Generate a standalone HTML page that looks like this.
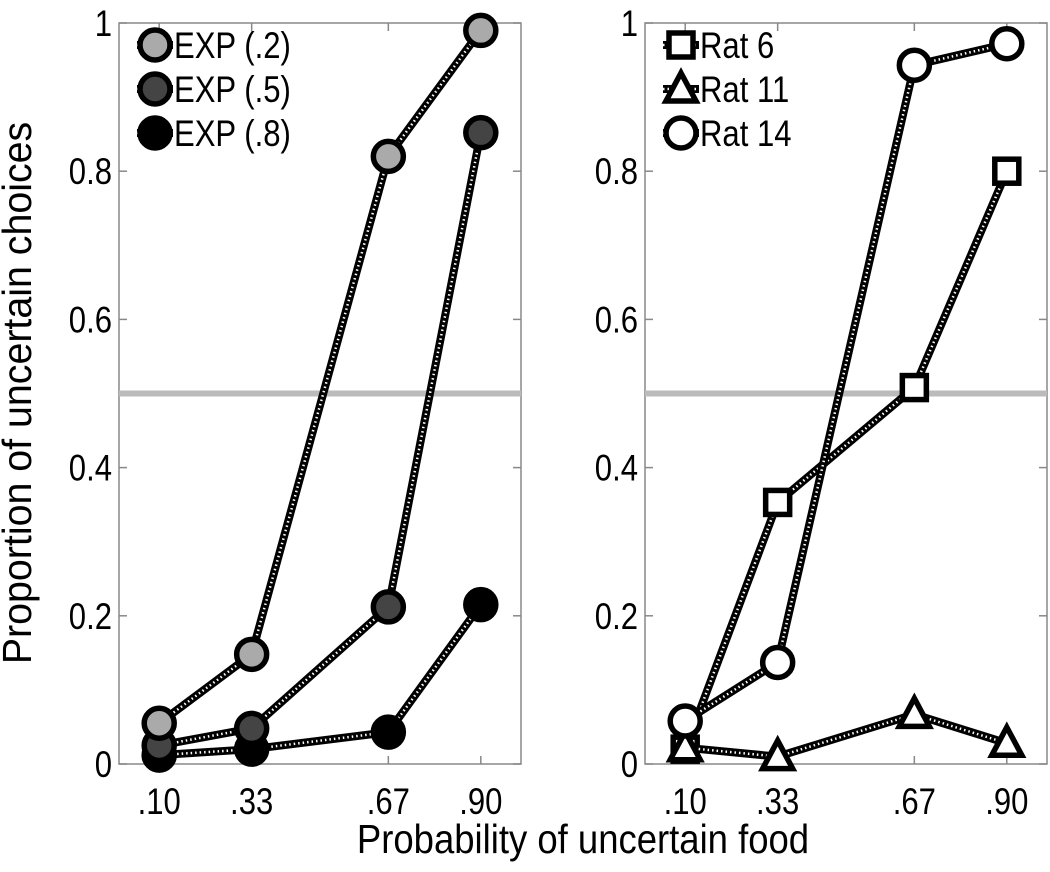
<!DOCTYPE html>
<html><head><meta charset="utf-8"><style>
body{margin:0;background:#fff}
svg text{font-family:"Liberation Sans",sans-serif;fill:#000;transform-box:fill-box}
.ce{transform:scaleX(.84);transform-origin:100% 50%}
.cm{transform:scaleX(.84);transform-origin:50% 50%}
.cs{transform:scaleX(.84);transform-origin:0% 50%}
.ct{transform:scaleX(.89);transform-origin:50% 50%}
</style></head><body>
<svg id="c" width="1050" height="867" viewBox="0 0 1050 867"></svg>
<script>
const xCats=[0.10,0.33,0.67,0.90];
const xTickLabels=['.10','.33','.67','.90'];
const yTicks=[0,0.2,0.4,0.6,0.8,1];
const yTickLabels=['0','0.2','0.4','0.6','0.8','1'];
const exp2=[0.055,0.148,0.82,0.99];
const exp5=[0.025,0.048,0.212,0.852];
const exp8=[0.012,0.02,0.043,0.215];
const rat6=[0.02,0.353,0.508,0.80];
const rat11=[0.022,0.01,0.067,0.028];
const rat14=[0.058,0.137,0.943,0.972];
const refLine=0.5;
const NS='http://www.w3.org/2000/svg';
const svg=document.getElementById('c');
function mk(t,a,p){const e=document.createElementNS(NS,t);for(const k in a)e.setAttribute(k,a[k]);(p||svg).appendChild(e);return e;}
const Y0=764,Y1=23;
function yS(v){return Y0-(Y0-Y1)*v;}
function panel(name,L,R){
  const g=mk('g',{});
  
  
  const xS=v=>L+(R-L)*v;
  const box=mk('rect',{x:L,y:Y1,width:R-L,height:Y0-Y1,fill:'none',stroke:'#888','stroke-width':1.5},g);
  
  const ref=mk('line',{x1:L,x2:R,y1:yS(refLine),y2:yS(refLine),stroke:'#bbb','stroke-width':6},g);
  
  yTicks.forEach((v,i)=>{
    mk('line',{x1:L,x2:L+8,y1:yS(v),y2:yS(v),stroke:'#888','stroke-width':1.5},g);
    mk('line',{x1:R,x2:R-8,y1:yS(v),y2:yS(v),stroke:'#888','stroke-width':1.5},g);
    const t=mk('text',{x:L-7,y:yS(v)+13,'text-anchor':'end','font-size':37,class:'ce'},g);
    t.textContent=yTickLabels[i];
    
  });
  xCats.forEach((v,i)=>{
    mk('line',{x1:xS(v),x2:xS(v),y1:Y0,y2:Y0-8,stroke:'#888','stroke-width':1.5},g);
    mk('line',{x1:xS(v),x2:xS(v),y1:Y1,y2:Y1+8,stroke:'#888','stroke-width':1.5},g);
    const t=mk('text',{x:xS(v),y:Y0+50,'text-anchor':'middle','font-size':37,class:'cm'},g);
    t.textContent=xTickLabels[i];
    
  });
  return {g,xS};
}
function marker(g,type,x,y,fill){
  let e;
  if(type==='circle') e=mk('circle',{cx:x,cy:y,r:15,fill:fill,stroke:'#000','stroke-width':5.5},g);
  else if(type==='square') e=mk('rect',{x:x-12,y:y-12,width:24,height:24,fill:'#fff',stroke:'#000','stroke-width':5.5},g);
  else e=mk('polygon',{points:`${x},${y-16} ${x+15},${y+12} ${x-15},${y+12}`,fill:'#fff',stroke:'#000','stroke-width':5.5,'stroke-linejoin':'miter'},g);
  return e;
}
function series(p,name,vals,type,fill){
  const g=mk('g',{},p.g);
  
  const pts=vals.map((v,i)=>p.xS(xCats[i])+','+yS(v)).join(' ');
  mk('polyline',{points:pts,fill:'none',stroke:'#000','stroke-width':8},g);
  mk('polyline',{points:pts,fill:'none',stroke:'#fff','stroke-width':2.5,'stroke-dasharray':'1.5 3'},g);
  vals.forEach((v,i)=>{const m=marker(g,type,p.xS(xCats[i]),yS(v),fill);
    });
}
function legend(p,L,items){
  items.forEach((it,i)=>{
    const y=45+i*44;
    const g=mk('g',{},p.g);
    
    mk('line',{x1:L+18,x2:L+54,y1:y,y2:y,stroke:'#000','stroke-width':8},g);
    mk('line',{x1:L+18,x2:L+54,y1:y,y2:y,stroke:'#fff','stroke-width':2.5,'stroke-dasharray':'1.5 3'},g);
    marker(g,it[1],L+36,y,it[2]);
    const t=mk('text',{x:L+55,y:y+13,'font-size':37,class:'cs'},g);t.textContent=it[0];
  });
}
const pl=panel('left-panel',119,521);
series(pl,'exp-8',exp8,'circle','#000');
series(pl,'exp-5',exp5,'circle','#444');
series(pl,'exp-2',exp2,'circle','#aaa');
legend(pl,119,[['EXP (.2)','circle','#aaa'],['EXP (.5)','circle','#444'],['EXP (.8)','circle','#000']]);
const pr=panel('right-panel',645,1047);
series(pr,'rat-6',rat6,'square','#fff');
series(pr,'rat-11',rat11,'triangle','#fff');
series(pr,'rat-14',rat14,'circle','#fff');
legend(pr,645,[['Rat 6','square'],['Rat 11','triangle'],['Rat 14','circle','#fff']]);
const yg=mk('g',{transform:'translate(31,393) rotate(-90) scale(0.96,1)'});
const yt=mk('text',{x:0,y:0,'font-size':41,'text-anchor':'middle'},yg);
yt.textContent='Proportion of uncertain choices';

const xt=mk('text',{x:583,y:853,'font-size':41,'text-anchor':'middle',class:'ct'});
xt.textContent='Probability of uncertain food';

</script>
</body></html>
